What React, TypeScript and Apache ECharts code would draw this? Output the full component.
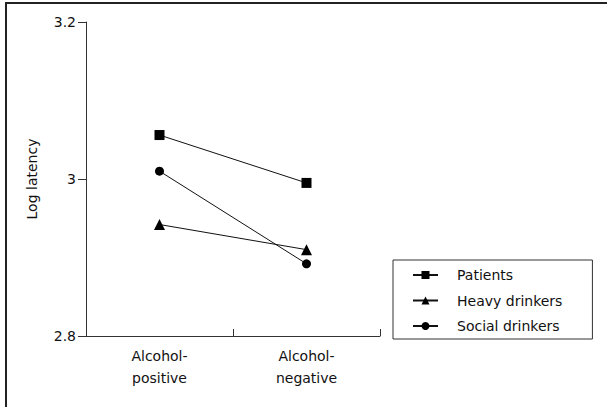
import React, { useEffect, useRef } from "react";
import * as echarts from "echarts";

const categories = ["Alcohol-\npositive", "Alcohol-\nnegative"];
const seriesNames = ["Patients", "Heavy drinkers", "Social drinkers"];
const patients = [3.056, 2.995];
const heavyDrinkers = [2.942, 2.910];
const socialDrinkers = [3.010, 2.892];
const symbols = ["rect", "triangle", "circle"];
const symbolSizes = [10, 11, 9];
const yMin = 2.8;
const yMax = 3.2;
const yInterval = 0.2;

const FONT = "DejaVu Sans";

export default function App() {
  const ref = useRef<HTMLDivElement>(null);
  useEffect(() => {
    if (!ref.current) return;
    const chart = echarts.init(ref.current, undefined, { renderer: "svg" });
    const data = [patients, heavyDrinkers, socialDrinkers];
    chart.setOption({
      animation: false,
      backgroundColor: "#ffffff",
      textStyle: { fontFamily: FONT },
      grid: { left: 86, right: 227, top: 22, bottom: 71, containLabel: false },
      legend: {
        orient: "vertical",
        left: 393,
        top: 260,
        padding: [8, 30, 6, 19],
        itemGap: 11.5,
        itemWidth: 25,
        itemHeight: 10,
        borderColor: "#333",
        borderWidth: 1,
        borderRadius: 0,
        data: seriesNames,
        textStyle: { fontFamily: FONT, fontSize: 14, color: "#111", padding: [0, 0, 0, 14] },
      },
      xAxis: {
        type: "category",
        data: categories,
        boundaryGap: true,
        axisLine: { lineStyle: { color: "#333", width: 1 } },
        axisTick: { show: true, inside: true, length: 7, lineStyle: { color: "#333" } },
        axisLabel: { fontFamily: FONT, fontSize: 14, color: "#111", margin: 9, lineHeight: 22 },
        splitLine: { show: false },
      },
      yAxis: {
        type: "value",
        min: yMin,
        max: yMax,
        interval: yInterval,
        name: "Log latency",
        nameLocation: "middle",
        nameGap: 47,
        nameRotate: 90,
        nameTextStyle: { fontFamily: FONT, fontSize: 14, color: "#111" },
        axisLine: { show: true, lineStyle: { color: "#333", width: 1 } },
        axisTick: { show: true, inside: false, length: 8, lineStyle: { color: "#333" } },
        axisLabel: { fontFamily: FONT, fontSize: 14, color: "#111", margin: 10 },
        splitLine: { show: false },
      },
      series: seriesNames.map((name, i) => ({
        name,
        type: "line",
        data: data[i],
        symbol: symbols[i],
        symbolSize: symbolSizes[i],
        showAllSymbol: true,
        itemStyle: { color: "#000" },
        lineStyle: { color: "#111", width: 1 },
        emphasis: { disabled: true },
      })),
    });
    return () => chart.dispose();
  }, []);
  return (
    <div style={{ position: "fixed", left: 0, top: 0, width: 607, height: 407, background: "#fff" }}>
      <div ref={ref} style={{ position: "absolute", left: 0, top: 0, width: 607, height: 407 }} />
      <div
        style={{
          position: "absolute",
          left: 5,
          top: 2,
          width: 602,
          height: 405,
          borderTop: "2px solid #222",
          borderLeft: "2px solid #222",
          boxSizing: "border-box",
          pointerEvents: "none",
        }}
      />
    </div>
  );
}
